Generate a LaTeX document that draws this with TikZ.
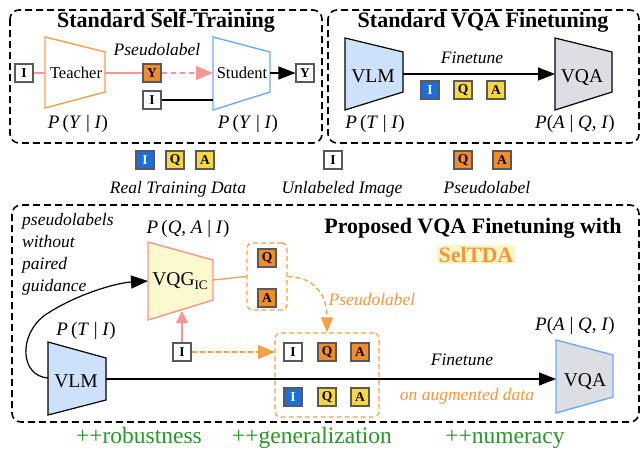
\documentclass[tikz,border=0pt]{standalone}
\usepackage{fontspec}
\setmainfont{Liberation Serif}
\usetikzlibrary{arrows.meta}

\definecolor{tokblue}{RGB}{28,110,222}
\definecolor{tokyellow}{RGB}{248,214,60}
\definecolor{tokorange}{RGB}{242,140,40}
\definecolor{teaorange}{RGB}{250,160,75}
\definecolor{stublue}{RGB}{110,170,250}
\definecolor{vlmfill}{RGB}{205,225,250}
\definecolor{vqafill}{RGB}{220,222,228}
\definecolor{vqgfill}{RGB}{252,249,206}
\definecolor{vqgpink}{RGB}{248,150,140}
\definecolor{pinkln}{RGB}{247,150,150}
\definecolor{orln}{RGB}{248,160,70}
\definecolor{selorange}{RGB}{247,150,55}
\definecolor{selfill}{RGB}{253,246,200}
\definecolor{gainsgreen}{RGB}{40,150,40}

\newcommand{\pv}[1]{\textit{#1}}

\tikzset{
  tok/.style={draw=black!65, line width=1.1pt, minimum size=18pt, inner sep=0pt, font=\fontsize{13.5}{15}\selectfont\bfseries},
  tokI/.style={tok, fill=tokblue, text=white},
  tokQ/.style={tok, fill=tokyellow},
  tokP/.style={tok, fill=tokorange},
  tokU/.style={tok, fill=white},
  panel/.style={draw, line width=1.6pt, dash pattern=on 7pt off 4pt, rounded corners=9pt},
  ttl/.style={font=\fontsize{22}{24}\selectfont\bfseries, anchor=base},
  lbl/.style={font=\fontsize{16.5}{19}\selectfont, anchor=base},
  big/.style={font=\fontsize{19.5}{22}\selectfont, anchor=base},
  itl/.style={font=\fontsize{17.5}{20}\selectfont\itshape, anchor=base},
  prob/.style={font=\fontsize{19}{22}\selectfont, anchor=base},
  gain/.style={font=\fontsize{23.5}{26}\selectfont, text=gainsgreen, anchor=base},
  bigtip/.style={-{Triangle[length=17pt,width=13pt]}},
  pinkline/.style={draw=pinkln, line width=1.2pt},
  orline/.style={draw=orln, line width=1.3pt},
  ordash/.style={dash pattern=on 5pt off 3pt},
}

\begin{document}
\begin{tikzpicture}[x=1pt,y=-1pt]
    \useasboundingbox (0,0) rectangle (643,450);
    % panels
    \draw[panel] (10,10) rectangle (322,143);
    \draw[panel] (328,10) rectangle (639,143);
    \draw[panel] (12,205) rectangle (639,422);
    \node[ttl] (ttlself) at (166,27) {Standard Self-Training};
    \node[ttl] (ttlvqa) at (483,27) {Standard VQA Finetuning};
    \node[ttl] (ttlprop) at (473,233) {Proposed VQA Finetuning with};
    \node[ttl, text=selorange, fill=selfill, rounded corners=4pt, inner sep=2pt] (sel) at (476,262) {SelTDA};

    % standard self-training
    \coordinate (teaL) at (45,73); \coordinate (teaR) at (105,73);
    \coordinate (stuL) at (213,73); \coordinate (stuL2) at (213,100); \coordinate (stuR) at (270,73);
    \draw[teaorange, line width=1.4pt] (45,37) -- (105,52) -- (105,92) -- (45,108) -- cycle;
    \draw[stublue, line width=1.4pt] (213,37) -- (270,52) -- (270,92) -- (213,110) -- cycle;
    \node[lbl] (tea) at (76,78) {Teacher};
    \node[lbl] (stu) at (242,78) {Student};
    \node[tokU] (img1) at (24,73) {I};
    \node[tokP] (pl1) at (152,73) {Y};
    \node[tokU] (img2) at (152,100) {I};
    \node[tokU] (out1) at (305,73) {Y};
    \draw[pinkline] (img1) -- (teaL);
    \draw[pinkline] (teaR) -- (pl1);
    \draw[pinkline, dash pattern=on 5pt off 4pt, -{Triangle[length=17pt,width=14pt]}] (pl1) -- (stuL);
    \draw[line width=1.2pt, bigtip] (stuR) -- (out1);
    \draw[line width=1.2pt] (img2) -- (stuL2);
    \node[itl] (plself) at (157,55) {Pseudolabel};
    \node[prob] (ptea) at (78,128) {\pv{P}\,(\pv{Y} | \pv{I})};
    \node[prob] (pstu) at (248,128) {\pv{P}\,(\pv{Y} | \pv{I})};

    % standard vqa finetuning
    \coordinate (vlmR) at (403,74); \coordinate (vqaL) at (555,74);
    \draw[fill=vlmfill, line width=1.2pt] (345,38) -- (403,52) -- (403,92) -- (345,110) -- cycle;
    \draw[fill=vqafill, line width=1.2pt] (555,38) -- (612,52) -- (612,92) -- (555,110) -- cycle;
    \node[big] (vlm) at (373,82) {VLM};
    \node[big] (vqa) at (582,82) {VQA};
    \draw[line width=1.2pt, bigtip] (vlmR) -- (vqaL);
    \node[itl] (ftvqa) at (472,63) {Finetune};
    \node[tokI] (ri) at (430,90) {I};
    \node[tokQ] (rq) at (463,90) {Q};
    \node[tokQ] (ra) at (496,90) {A};
    \node[prob] (pvlm) at (375,128) {\pv{P}\,(\pv{T} | \pv{I})};
    \node[prob] (pvqa) at (575,128) {\pv{P}(\pv{A} | \pv{Q}, \pv{I})};

    % legend
    \node[tokI] (li) at (145,160) {I};
    \node[tokQ] (lq) at (175,160) {Q};
    \node[tokQ] (la) at (205,160) {A};
    \node[tokU] (lu) at (333,160) {I};
    \node[tokP] (lpq) at (463,160) {Q};
    \node[tokP] (lpa) at (502,160) {A};
    \node[itl] (lreal) at (178,193) {Real Training Data};
    \node[itl] (lunl) at (342,193) {Unlabeled Image};
    \node[itl] (lpl) at (487,193) {Pseudolabel};

    % proposed
    \node[font=\fontsize{17.5}{22}\selectfont\itshape, align=left, anchor=north west, inner sep=0pt] (note) at (22,213) {pseudolabels\\without\\paired\\guidance};
    \coordinate (vqgL) at (148,281); \coordinate (vqgR) at (213,280); \coordinate (vqgB) at (182,311);
    \draw[fill=vqgfill, draw=vqgpink, line width=1.4pt] (148,242) -- (213,260) -- (213,300) -- (148,320) -- cycle;
    \node[big] (vqg) at (180,285) {VQG\raisebox{-0.45ex}{\fontsize{13}{14}\selectfont IC}};
    \node[prob] (pvqg) at (188,233) {\pv{P}\,(\pv{Q}, \pv{A} | \pv{I})};
    \node[draw=orln, line width=1.2pt, ordash, rounded corners=5pt, minimum width=40pt, minimum height=67pt] (qa) at (267,276.5) {};
    \node[tokP] (gq) at (267,258) {Q};
    \node[tokP] (ga) at (267,298) {A};
    \draw[orline] (vqgR) -- (qa.west);
    \node[draw=orln, line width=1.2pt, ordash, rounded corners=5pt, minimum width=104pt, minimum height=84pt] (aug) at (327,375) {};
    \coordinate (augW) at (275,352);
    \draw[orline, ordash, -{Triangle[length=15pt,width=12pt]}] (qa.east) .. controls (312,277) and (327,292) .. (aug.north);
    \node[itl, text=selorange] (plprop) at (372,305) {Pseudolabel};
    \node[tokU] (img3) at (182,352) {I};
    \draw[pinkline, line width=1.8pt, -{Triangle[length=12pt,width=12pt]}] (img3) -- (vqgB);
    \draw[orline, ordash, -{Triangle[length=17pt,width=14pt]}] (img3) -- (augW);
    \node[tokU] (ai) at (293,352) {I};
    \node[tokP] (aq) at (327,352) {Q};
    \node[tokP] (aa) at (360,352) {A};
    \node[tokI] (bi) at (293,397) {I};
    \node[tokQ] (bq) at (327,397) {Q};
    \node[tokQ] (ba) at (360,397) {A};

    \coordinate (vlm2L) at (48,378); \coordinate (vlm2R) at (106,379); \coordinate (vqa2L) at (556,379);
    \draw[fill=vlmfill, line width=1.2pt] (48,342) -- (106,358) -- (106,400) -- (48,415) -- cycle;
    \draw[fill=vqafill, draw=stublue, line width=1.4pt] (556,340) -- (613,355) -- (613,397) -- (556,413) -- cycle;
    \node[big] (vlm2) at (76,387) {VLM};
    \node[big] (vqa2) at (585,386) {VQA};
    \draw[line width=1.2pt, bigtip] (vlm2R) -- (vqa2L);
    \draw[line width=1.2pt, bigtip] (vlm2L) .. controls (20,376) and (18,335) .. (45,315) .. controls (75,295) and (115,283) .. (vqgL);
    \node[itl] (ftprop) at (462,365) {Finetune};
    \node[itl, text=selorange] (augtxt) at (467,400) {on augmented data};
    \node[prob] (pvlm2) at (86,335) {\pv{P}\,(\pv{T} | \pv{I})};
    \node[prob] (pvqa2) at (575,330) {\pv{P}(\pv{A} | \pv{Q}, \pv{I})};

    % gains
    \node[gain] (g1) at (139,443) {++robustness};
    \node[gain] (g2) at (312,443) {++generalization};
    \node[gain] (g3) at (505,443) {++numeracy};
\end{tikzpicture}
\end{document}
